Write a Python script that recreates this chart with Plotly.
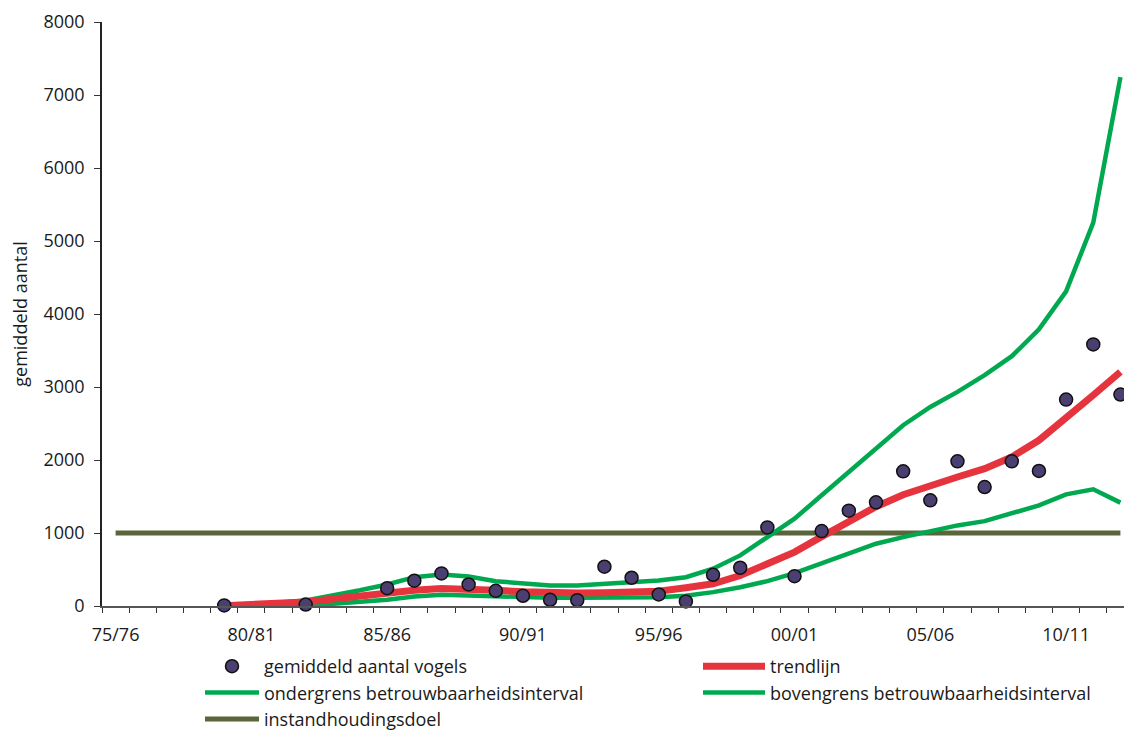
import plotly.graph_objects as go

seasons = ["75/76", "76/77", "77/78", "78/79", "79/80", "80/81", "81/82", "82/83", "83/84", "84/85",
           "85/86", "86/87", "87/88", "88/89", "89/90", "90/91", "91/92", "92/93", "93/94", "94/95",
           "95/96", "96/97", "97/98", "98/99", "99/00", "00/01", "01/02", "02/03", "03/04", "04/05",
           "05/06", "06/07", "07/08", "08/09", "09/10", "10/11", "11/12", "12/13"]

gemiddeld = [None, None, None, None, 8, None, None, 20, None, None,
             244, 346, 446, 295, 208, 140, 85, 80, 538, 387,
             158, 62, 428, 524, 1077, 409, 1026, 1306, 1420, 1845,
             1447, 1982, 1630, 1982, 1850, 2828, 3583, 2897]

trendlijn = [None, None, None, None, 5, 15, 30, 55, 95, 140,
             180, 215, 240, 236, 215, 195, 180, 178, 183, 190,
             203, 250, 304, 418, 579, 738, 950, 1165, 1360, 1525,
             1653, 1767, 1882, 2041, 2270, 2568, 2888, 3207]

bovengrens = [None, None, None, None, 10, 25, 45, 75, 140, 215,
              295, 395, 432, 405, 340, 304, 281, 281, 304, 336,
              350, 395, 510, 693, 944, 1196, 1516, 1830, 2150, 2476,
              2727, 2933, 3162, 3422, 3789, 4310, 5251, 7245]

ondergrens = [None, None, None, None, 2, 5, 8, 12, 30, 55,
              85, 130, 154, 144, 130, 121, 112, 112, 115, 121,
              121, 140, 190, 258, 340, 450, 579, 716, 853, 944,
              1026, 1104, 1163, 1264, 1378, 1529, 1598, 1416]

instandhoudingsdoel = [1000] * len(seasons)

tick_labels = ["75/76", "80/81", "85/86", "90/91", "95/96", "00/01", "05/06", "10/11"]
y_ticks = [0, 1000, 2000, 3000, 4000, 5000, 6000, 7000, 8000]

x = list(range(len(seasons)))
tickpos = [seasons.index(t) for t in tick_labels]

GREEN = "#00a84f"
RED = "#e5343e"
OLIVE = "#5b653a"
DOT = "#4b3f72"
FONT = "Open Sans"
TXT = "#1a1a1a"
FS = 18

# figure geometry (page body adds 8px offset)
L, T, PW, PH = 94, 14, 1032, 584
W = L + PW
H = 728
B = H - T - PH

fig = go.Figure()
fig.add_trace(go.Scatter(x=x, y=instandhoudingsdoel, mode="lines", name="instandhoudingsdoel",
                         line=dict(color=OLIVE, width=5), legend="legend", legendrank=3))
fig.add_trace(go.Scatter(x=x, y=ondergrens, mode="lines", name="ondergrens betrouwbaarheidsinterval",
                         line=dict(color=GREEN, width=4.5), legend="legend", legendrank=2))
fig.add_trace(go.Scatter(x=x, y=bovengrens, mode="lines", name="bovengrens betrouwbaarheidsinterval",
                         line=dict(color=GREEN, width=4.5), legend="legend2", legendrank=2))
fig.add_trace(go.Scatter(x=x, y=trendlijn, mode="lines", name="trendlijn",
                         line=dict(color=RED, width=7), legend="legend2", legendrank=1))
fig.add_trace(go.Scatter(x=x, y=gemiddeld, mode="markers", name="gemiddeld aantal vogels",
                         marker=dict(size=13, color=DOT, line=dict(color="#111111", width=1.5)),
                         cliponaxis=False, legend="legend", legendrank=1))

legend_common = dict(orientation="v", yanchor="top", xanchor="left", traceorder="normal",
                     font=dict(family=FONT, size=FS, color=TXT), bgcolor="rgba(0,0,0,0)",
                     tracegroupgap=0)

leg_top = -(640 - (T + PH)) / PH

fig.update_layout(
    width=W, height=H,
    margin=dict(l=L, r=0, t=T, b=B, autoexpand=False),
    paper_bgcolor="white", plot_bgcolor="white",
    font=dict(family=FONT, size=FS, color=TXT),
    showlegend=True,
    legend=dict(x=(192 - L) / PW, y=leg_top, itemwidth=54, **legend_common),
    legend2=dict(x=(690 - L) / PW, y=leg_top, itemwidth=62, **legend_common),
)
fig.update_xaxes(
    range=[-0.5, 37.5], tickmode="array", tickvals=tickpos, ticktext=tick_labels,
    ticks="", showgrid=False, zeroline=False,
    showline=True, linecolor="#555555", linewidth=1.5,
    tickfont=dict(family=FONT, size=FS, color=TXT), ticklabelstandoff=12,
    minor=dict(tick0=-0.5, dtick=1, ticks="outside", ticklen=5, tickcolor="#333333", tickwidth=1, showgrid=False),
)
fig.update_yaxes(
    range=[0, 8000], tickmode="array", tickvals=y_ticks,
    ticks="outside", ticklen=6, tickcolor="#333333", tickwidth=1,
    showgrid=False, zeroline=False, showline=True, linecolor="#222222", linewidth=1.5,
    tickfont=dict(family=FONT, size=FS, color=TXT), ticklabelstandoff=6,
    title=dict(text="gemiddeld aantal", font=dict(family=FONT, size=FS, color=TXT), standoff=14),
)

fig.write_html("out.html")
